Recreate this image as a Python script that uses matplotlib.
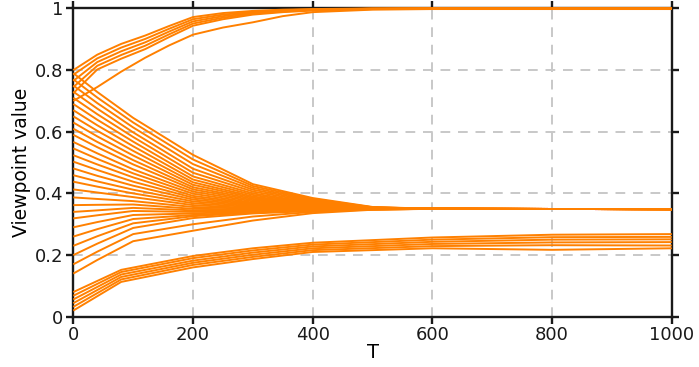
import matplotlib
matplotlib.use("Agg")
import matplotlib.pyplot as plt

plt.rcParams['font.family'] = ['DejaVu Sans']

# ---------------- data ----------------
# Top cluster (converges to 1)
top_T = [0, 40, 80, 120, 160, 200, 250, 300, 350, 400, 500, 600, 1000]
top_lines = [
    [0.800, 0.850, 0.885, 0.912, 0.943, 0.972, 0.985, 0.992, 0.996, 0.998, 1.000, 1.000, 1.000],
    [0.785, 0.838, 0.873, 0.901, 0.934, 0.965, 0.980, 0.989, 0.994, 0.997, 0.999, 1.000, 1.000],
    [0.765, 0.826, 0.861, 0.890, 0.925, 0.958, 0.975, 0.986, 0.992, 0.996, 0.999, 1.000, 1.000],
    [0.745, 0.814, 0.849, 0.879, 0.916, 0.951, 0.970, 0.983, 0.990, 0.995, 0.999, 1.000, 1.000],
    [0.725, 0.802, 0.837, 0.868, 0.907, 0.944, 0.965, 0.980, 0.988, 0.993, 0.998, 1.000, 1.000],
    [0.700, 0.745, 0.795, 0.840, 0.880, 0.915, 0.938, 0.955, 0.975, 0.988, 0.996, 0.998, 0.998],
]

# Middle cluster (converges to ~0.35): values of each line at each time
mid_T = [0, 40, 100, 200, 300, 400, 500, 600, 1000]
mid_t0 = [0.790, 0.770, 0.750, 0.730, 0.710, 0.690, 0.670, 0.650, 0.630, 0.610,
          0.590, 0.567, 0.546, 0.524, 0.503, 0.481, 0.459, 0.438, 0.413, 0.387,
          0.362, 0.340, 0.319, 0.290, 0.260, 0.230, 0.200, 0.170, 0.140]
mid_t40 = [0.729, 0.711, 0.693, 0.675, 0.657, 0.639, 0.621, 0.603, 0.585, 0.567,
           0.550, 0.530, 0.512, 0.494, 0.476, 0.457, 0.439, 0.422, 0.403, 0.382,
           0.363, 0.345, 0.329, 0.307, 0.284, 0.261, 0.237, 0.211, 0.184]
mid_t100 = [0.645, 0.630, 0.614, 0.598, 0.583, 0.568, 0.553, 0.538, 0.523, 0.508,
            0.494, 0.478, 0.465, 0.452, 0.438, 0.425, 0.412, 0.400, 0.388, 0.375,
            0.364, 0.353, 0.343, 0.330, 0.317, 0.303, 0.288, 0.268, 0.245]
mid_t200 = [0.525, 0.510, 0.495, 0.480, 0.467, 0.455, 0.445, 0.436, 0.428, 0.420,
            0.413, 0.406, 0.399, 0.392, 0.386, 0.380, 0.374, 0.368, 0.362, 0.356,
            0.350, 0.345, 0.340, 0.335, 0.330, 0.326, 0.320, 0.300, 0.279]
mid_t300 = [0.430, 0.424, 0.418, 0.412, 0.406, 0.400, 0.395, 0.390, 0.386, 0.382,
            0.378, 0.374, 0.370, 0.367, 0.364, 0.361, 0.358, 0.355, 0.352, 0.350,
            0.348, 0.346, 0.344, 0.342, 0.340, 0.338, 0.335, 0.325, 0.312]
mid_t400 = [0.385, 0.382, 0.379, 0.376, 0.373, 0.370, 0.368, 0.366, 0.364, 0.362,
            0.360, 0.358, 0.357, 0.356, 0.355, 0.354, 0.353, 0.352, 0.351, 0.350,
            0.349, 0.348, 0.347, 0.346, 0.345, 0.344, 0.343, 0.340, 0.336]
mid_t500 = [0.356, 0.355, 0.355, 0.354, 0.354, 0.353, 0.353, 0.353, 0.352, 0.352,
            0.352, 0.351, 0.351, 0.351, 0.351, 0.350, 0.350, 0.350, 0.350, 0.350,
            0.349, 0.349, 0.349, 0.349, 0.349, 0.348, 0.348, 0.348, 0.347]
mid_t600 = [0.350] * 29
mid_t1000 = [0.349] * 29

# Bottom cluster (converges to ~0.22-0.27)
bot_T = [0, 80, 200, 300, 400, 600, 800, 1000]
bot_lines = [
    [0.080, 0.152, 0.197, 0.222, 0.240, 0.257, 0.266, 0.268],
    [0.068, 0.145, 0.190, 0.215, 0.234, 0.250, 0.258, 0.259],
    [0.056, 0.137, 0.182, 0.208, 0.228, 0.243, 0.250, 0.251],
    [0.044, 0.129, 0.175, 0.201, 0.222, 0.236, 0.241, 0.242],
    [0.032, 0.121, 0.168, 0.194, 0.216, 0.229, 0.232, 0.231],
    [0.020, 0.113, 0.160, 0.187, 0.210, 0.222, 0.217, 0.222],
]

x_ticks = [0, 200, 400, 600, 800, 1000]
y_ticks = [0, 0.2, 0.4, 0.6, 0.8, 1.0]
y_tick_labels = ['0', '0.2', '0.4', '0.6', '0.8', '1']

# ---------------- plot ----------------
color = '#ff8000'
fig = plt.figure(figsize=(6.99, 3.67), dpi=100)
ax = fig.add_axes([0.1049, 0.137, 0.8562, 0.840])

line_kw = dict(color=color, linewidth=1.4, zorder=3, clip_on=False,
               solid_joinstyle='round', solid_capstyle='butt')

for row in top_lines:
    ax.plot(top_T, row, **line_kw)

mid_cols = [mid_t0, mid_t40, mid_t100, mid_t200, mid_t300, mid_t400,
            mid_t500, mid_t600, mid_t1000]
for i in range(len(mid_t0)):
    ax.plot(mid_T, [col[i] for col in mid_cols], **line_kw)

for row in bot_lines:
    ax.plot(bot_T, row, **line_kw)

ax.set_xlim(0, 1000)
ax.set_ylim(0, 1)
ax.set_xticks(x_ticks)
ax.set_xticklabels([str(t) for t in x_ticks])
ax.set_yticks(y_ticks)
ax.set_yticklabels(y_tick_labels)

ax.grid(True, color='#c8c8c8', linestyle=(0, (5, 4)), linewidth=1.4, zorder=0)
ax.set_axisbelow(True)

for s in ax.spines.values():
    s.set_linewidth(1.7)
    s.set_color('#1a1a1a')

ax.tick_params(direction='out', length=5, width=1.7, top=True, right=True,
               labelsize=13, pad=2, colors='#1a1a1a')

ax.set_xlabel('T', fontsize=14, labelpad=-1)
ax.set_ylabel('Viewpoint value', fontsize=13.5, labelpad=3)

fig.savefig('out.png', dpi=100)
